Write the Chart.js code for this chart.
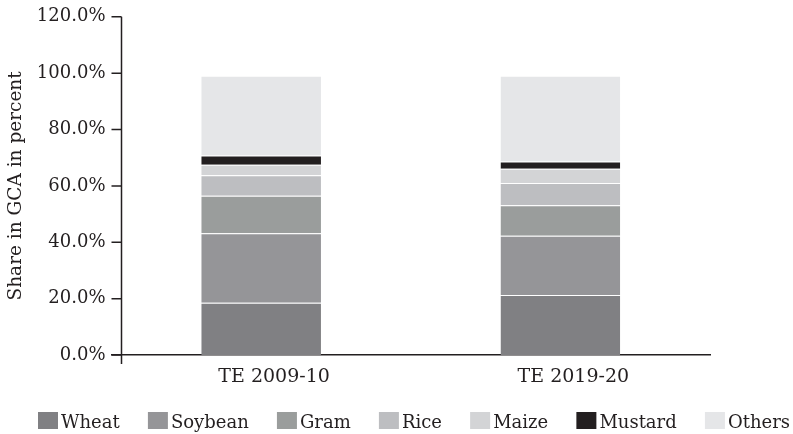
<!DOCTYPE html>
<html>
<head>
<meta charset="utf-8">
<script src="https://cdn.jsdelivr.net/npm/chart.js@4.4.1/dist/chart.umd.min.js"></script>
<style>
  html, body { margin: 0; padding: 0; background: #fff; }
  #wrap { width: 793px; height: 434px; position: relative; }
</style>
</head>
<body>
<div id="wrap"><canvas id="c"></canvas></div>
<script>
// categories and series (share of GCA, percent)
const periods = ['TE 2009-10', 'TE 2019-20'];
const wheat   = [18.5, 21.3];
const soybean = [24.7, 21.0];
const gram    = [13.3, 10.8];
const rice    = [7.3, 7.9];
const maize   = [3.7, 5.1];
const mustard = [3.3, 2.6];
const others  = [28.3, 30.4];
const yTicks  = [0, 20, 40, 60, 80, 100, 120];

const FONT = 'DejaVu Serif';
const INK = '#231f20';

const series = [
    { label: 'Wheat', data: wheat, color: '#808083' },
    { label: 'Soybean', data: soybean, color: '#959598' },
    { label: 'Gram', data: gram, color: '#9a9d9c' },
    { label: 'Rice', data: rice, color: '#bdbec1' },
    { label: 'Maize', data: maize, color: '#d3d4d6' },
    { label: 'Mustard', data: mustard, color: '#231f20' },
    { label: 'Others', data: others, color: '#e5e6e8' }
];

// y axis sits a little right of where the x axis starts, like the original
const yAxisLine = {
    id: 'yAxisLine',
    afterDraw(chart) {
        const ctx = chart.ctx;
        const y = chart.scales.y;
        const ax = chart.chartArea.left + 10;
        ctx.save();
        ctx.strokeStyle = INK;
        ctx.lineWidth = 1.5;
        ctx.beginPath();
        ctx.moveTo(ax, y.getPixelForValue(yTicks[yTicks.length - 1]));
        ctx.lineTo(ax, y.getPixelForValue(0) + 9);
        yTicks.forEach(t => {
            const py = y.getPixelForValue(t);
            ctx.moveTo(ax - 10, py);
            ctx.lineTo(ax, py);
        });
        ctx.stroke();
        ctx.restore();
    }
};

// legend: small box with the label right next to it
const boxLegend = {
    id: 'boxLegend',
    afterDraw(chart) {
        const ctx = chart.ctx;
        ctx.save();
        ctx.font = '18px "' + FONT + '"';
        ctx.textBaseline = 'alphabetic';
        const start = 38, end = 790, box = 20, gapText = 3;
        const widths = series.map(s => ctx.measureText(s.label).width);
        const used = widths.reduce((a, w) => a + box + gapText + w, 0);
        const gap = (end - start - used) / (series.length - 1);
        let x = start;
        series.forEach((s, i) => {
            ctx.fillStyle = s.color;
            ctx.fillRect(x, 412, box, 17);
            ctx.fillStyle = INK;
            ctx.fillText(s.label, x + box + gapText, 428);
            x += box + gapText + widths[i] + gap;
        });
        ctx.restore();
    }
};

new Chart(document.getElementById('c'), {
    type: 'bar',
    data: {
        labels: periods,
        datasets: series.map(s => ({
            label: s.label,
            data: s.data,
            backgroundColor: s.color,
            borderColor: 'rgba(255,255,255,0.2)',
            borderWidth: { top: 1, bottom: 0, left: 0, right: 0 },
            borderSkipped: false,
            barPercentage: 0.4,
            categoryPercentage: 1.0
        }))
    },
    options: {
        responsive: true,
        maintainAspectRatio: false,
        animation: false,
        layout: { padding: { top: 12.5, right: 83, bottom: 39, left: 0 } },
        scales: {
            x: {
                stacked: true,
                grid: { display: false, drawTicks: false },
                border: { display: true, color: INK, width: 1.5 },
                ticks: { color: INK, font: { family: FONT, size: 19 }, padding: 11, labelOffset: 13 },
                afterFit(s) { s.height = 40; }
            },
            y: {
                stacked: true,
                min: 0,
                max: 120,
                grid: { display: false, drawTicks: false },
                border: { display: false },
                afterFit(s) { s.width = 111.5; },
                ticks: {
                    stepSize: 20,
                    color: INK,
                    padding: 6,
                    font: { family: FONT, size: 18 },
                    callback: v => v.toFixed(1) + '%'
                },
                title: {
                    display: true,
                    text: 'Share in GCA in percent',
                    color: INK,
                    font: { family: FONT, size: 18.5 },
                    padding: { top: 5, bottom: 0 }
                }
            }
        },
        plugins: {
            legend: { display: false },
            tooltip: { enabled: false }
        }
    },
    plugins: [yAxisLine, boxLegend]
});
</script>
</body>
</html>
